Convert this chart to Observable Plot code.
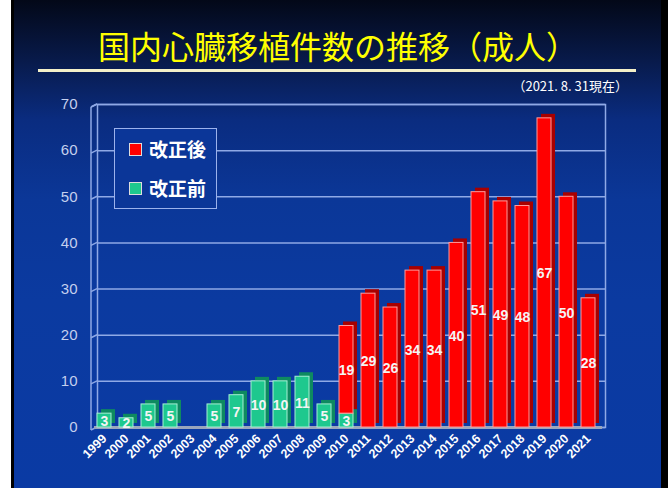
<!DOCTYPE html>
<html><head><meta charset="utf-8">
<script src="https://cdn.jsdelivr.net/npm/d3@7"></script>
<script src="https://cdn.jsdelivr.net/npm/@observablehq/plot@0.6"></script>
<style>
body{margin:0;background:#fff;}
#wrap{position:relative;width:668px;height:488px;overflow:hidden;
 background:linear-gradient(180deg,#030818 0px,#081a4a 60px,#0a2c80 120px,#0b3798 200px,#0b3aa0 300px,#0a3aa4 488px);}
#lstrip{position:absolute;left:0;top:0;width:11px;height:488px;background:#fff;}
#lline{position:absolute;left:11px;top:0;width:3px;height:488px;background:#000;}
#rline{position:absolute;right:0;top:0;width:7px;height:488px;background:#000;}
#title{position:absolute;left:0;width:668px;top:25px;text-align:center;color:#ffff00;
 font:32px "Noto Sans CJK JP",sans-serif;line-height:40px;padding-left:8px;box-sizing:border-box;}
#rule{position:absolute;left:38px;top:69px;width:598px;height:3px;background:#f4f0c8;}
#sub{position:absolute;right:40px;top:76px;color:#fff;font:13px "Noto Sans CJK JP",sans-serif;}
#chart{position:absolute;left:0;top:0;}
#legend{position:absolute;left:114px;top:128px;width:103px;height:81px;border:1.5px solid #9cb2ec;
 background:#0b3698;box-sizing:border-box;}
.item{position:absolute;left:14px;color:#fff;font:bold 19px "Noto Sans CJK JP",sans-serif;line-height:20px;}
.sw{display:inline-block;width:11px;height:11px;margin-right:7px;border:1px solid #ddd;vertical-align:1px;}
</style></head>
<body>
<div id="wrap">
 <div id="chart"></div>
 <div id="lstrip"></div><div id="lline"></div><div id="rline"></div>
 <div id="title">国内心臓移植件数の推移（成人）</div>
 <div id="rule"></div>
 <div id="sub">（2021. 8. 31現在）</div>
 <div id="legend">
  <div class="item" style="top:10px"><span class="sw" style="background:#ff0000"></span>改正後</div>
  <div class="item" style="top:49px"><span class="sw" style="background:#1ec88e"></span>改正前</div>
 </div>
</div>
<script>
const years = ["1999","2000","2001","2002","2003","2004","2005","2006","2007","2008","2009","2010","2011","2012","2013","2014","2015","2016","2017","2018","2019","2020","2021"];
const before = [3,2,5,5,0,5,7,10,10,11,5,3,0,0,0,0,0,0,0,0,0,0,0];   // 改正前
const after  = [0,0,0,0,0,0,0,0,0,0,0,19,29,26,34,34,40,51,49,48,67,50,28]; // 改正後
const yTicks = [0,10,20,30,40,50,60,70];

const colors = {"改正前":"#1ec88e","改正後":"#ff0000"};
const sideColors = {"改正前":"#0e8a60","改正後":"#a80000"};
const edgeColors = {"改正前":"#a6f0d4","改正後":"#ff9c9c"};

const rows = [];
years.forEach((y,i)=>{
  if (before[i] > 0) rows.push({year:y, series:"改正前", value:before[i], base:0});
  if (after[i] > 0) rows.push({year:y, series:"改正後", value:after[i], base:before[i]});
});

// decorative 3D left wall (outer line + diagonal joints to each gridline)
function wallMark(index, scales, values, dims) {
  const g = d3.create("svg:g").attr("fill","none").attr("stroke","#8fa9e6").attr("stroke-width",1.5);
  const xl = dims.marginLeft, xo = xl - 6;
  const y0 = scales.y(0), y70 = scales.y(70);
  g.append("line").attr("x1",xo).attr("x2",xo).attr("y1",y0+3).attr("y2",y70+3);
  g.append("line").attr("x1",xo).attr("x2",xl).attr("y1",y70+3).attr("y2",y70);
  for (const t of yTicks) {
    g.append("line").attr("x1",xo).attr("x2",xl).attr("y1",scales.y(t)+3).attr("y2",scales.y(t));
  }
  return g.node();
}

const plot = Plot.plot({
  width: 668, height: 488,
  marginTop: 104, marginBottom: 61, marginLeft: 97, marginRight: 63,
  style: {background:"transparent", color:"#ffffff", fontFamily:"'Liberation Sans', Arial, sans-serif"},
  x: {domain: years, range:[93.75, 597.75], paddingInner: 0.35, paddingOuter: 0, label: null},
  y: {domain:[0,70], label: null},
  marks: [
    Plot.gridY(yTicks, {stroke:"#8fa9e6", strokeOpacity:1, strokeWidth:1.5}),
    Plot.frame({stroke:"#8fa9e6", strokeWidth:1.5}),
    wallMark,
    Plot.ruleY([0], {stroke:"#9aa6bc", strokeWidth:3, dx:-3}),
    // side/back faces
    Plot.barY(rows, {x:"year", y1:"base", y2:d=>d.base+d.value, fill:d=>sideColors[d.series], dx:4, dy:-4}),
    // front faces
    Plot.barY(rows, {x:"year", y1:"base", y2:d=>d.base+d.value, fill:d=>colors[d.series], stroke:d=>edgeColors[d.series], strokeWidth:1}),
    Plot.text(rows, {x:"year", y:d=>d.base+d.value/2, text:d=>String(d.value), fill:"#f4f4f4",
      fontSize:14, fontWeight:"bold", dy:1}),
    Plot.axisY(yTicks, {tickSize:0, tickPadding:20, fontSize:15, fill:"#c4d0ee", label:null}),
    Plot.axisX({tickSize:0, tickRotate:-45, tickPadding:9, fontSize:12.5, fontWeight:"bold", fill:"#ffffff", label:null})
  ]
});
document.getElementById("chart").appendChild(plot);
</script>
</body></html>
